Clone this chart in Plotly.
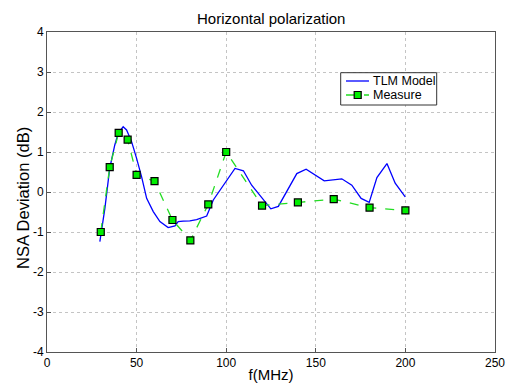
import plotly.graph_objects as go

tlm_f = [29.5, 32.3, 35, 37.8, 39.7, 42.5, 44.4, 47.2, 50, 52.8, 55.6, 59.3, 63, 67.6,
         71.4, 73.2, 76, 79.7, 83.5, 87.2, 89.1, 92.8, 99.3, 104.9, 109.6, 114.2,
         124.9, 129.1, 139.4, 144.6, 154.7, 164.5, 170.1, 175.3, 179.8, 184.1,
         189.7, 194.3, 199.9]
tlm_db = [-1.24, -0.41, 0.59, 1.17, 1.47, 1.63, 1.55, 1.26, 0.84, 0.38, -0.16, -0.49,
          -0.74, -0.89, -0.85, -0.74, -0.73, -0.72, -0.69, -0.62, -0.6, -0.2, 0.22,
          0.59, 0.53, 0.17, -0.42, -0.36, 0.46, 0.57, 0.28, 0.33, 0.17, -0.16, -0.26,
          0.36, 0.71, 0.22, -0.12]

meas_f = [30, 35, 40, 45, 50, 60, 70, 80, 90, 100, 120, 140, 160, 180, 200]
meas_db = [-1.0, 0.62, 1.48, 1.31, 0.43, 0.27, -0.70, -1.21, -0.31, 1.0, -0.34,
           -0.26, -0.18, -0.39, -0.46]

x_ticks = [0, 50, 100, 150, 200, 250]
x_tick_labels = ["0", "50", "100", "150", "200", "250"]
y_ticks = [-4, -3, -2, -1, 0, 1, 2, 3, 4]
y_tick_labels = ["-4", "-3", "-2", "-1", "0", "1", "2", "3", "4"]
series_names = ["TLM Model", "Measure"]

font = "Liberation Sans, Arial, sans-serif"
blue = "#0000ff"
green = "#22dd22"
marker_fill = "#00ee00"

W, H = 507, 385
ML, MR, MT, MB = 47, 12, 32, 33
PW, PH = W - ML - MR, H - MT - MB


def px_x(p):
    return (p - ML) / PW


def px_y(p):
    return (H - MB - p) / PH


fig = go.Figure()
fig.add_trace(go.Scatter(x=tlm_f, y=tlm_db, mode="lines", name=series_names[0],
                         line=dict(color=blue, width=1.3)))
fig.add_trace(go.Scatter(x=meas_f, y=meas_db, mode="lines+markers", name=series_names[1],
                         line=dict(color=green, width=1.3, dash="dash"),
                         marker=dict(symbol="square", size=7, color=marker_fill,
                                     line=dict(color="#000000", width=1.2))))

axis_common = dict(showline=True, linecolor="#555555", linewidth=1, mirror=True,
                   ticks="inside", ticklen=4, tickcolor="#555555",
                   showgrid=True, gridcolor="#c4c4c4", griddash="dot", gridwidth=1,
                   zeroline=False, automargin=False,
                   tickfont=dict(family=font, size=12, color="#000000"))

# custom legend box (pixel-placed, converted to paper fractions)
shapes = [
    dict(type="rect", xref="paper", yref="paper",
         x0=px_x(340.7), x1=px_x(436.7), y0=px_y(105), y1=px_y(72.7),
         line=dict(color="#333333", width=1), fillcolor="white", layer="above"),
    dict(type="line", xref="paper", yref="paper",
         x0=px_x(346), x1=px_x(369), y0=px_y(81), y1=px_y(81),
         line=dict(color=blue, width=1.3), layer="above"),
    dict(type="line", xref="paper", yref="paper",
         x0=px_x(346), x1=px_x(369), y0=px_y(95), y1=px_y(95),
         line=dict(color=green, width=1.3, dash="dash"), layer="above"),
    dict(type="rect", xref="paper", yref="paper",
         x0=px_x(354.2), x1=px_x(361.2), y0=px_y(98.5), y1=px_y(91.5),
         line=dict(color="#000000", width=1.2), fillcolor=marker_fill, layer="above"),
]
annotations = [
    dict(text=series_names[0], xref="paper", yref="paper", x=px_x(370.5), y=px_y(81),
         xanchor="left", yanchor="middle", showarrow=False,
         font=dict(family=font, size=12.5, color="#000000")),
    dict(text=series_names[1], xref="paper", yref="paper", x=px_x(370.5), y=px_y(95),
         xanchor="left", yanchor="middle", showarrow=False,
         font=dict(family=font, size=12.5, color="#000000")),
    dict(text="NSA Deviation (dB)", xref="paper", yref="paper", x=px_x(23), y=px_y(198),
         xanchor="center", yanchor="middle", textangle=-90, showarrow=False,
         font=dict(family=font, size=16.5, color="#000000")),
]

fig.update_layout(
    width=W, height=H,
    margin=dict(l=ML, r=MR, t=MT, b=MB),
    paper_bgcolor="white", plot_bgcolor="white",
    title=dict(text="Horizontal polarization", x=0.535, xanchor="center", y=0.952,
               yanchor="middle", font=dict(family=font, size=15, color="#000000")),
    xaxis=dict(range=[0, 250], tickvals=x_ticks, ticktext=x_tick_labels,
               ticklabelstandoff=0,
               title=dict(text="f(MHz)", font=dict(family=font, size=15, color="#000000"),
                          standoff=0), **axis_common),
    yaxis=dict(range=[-4, 4], tickvals=y_ticks, ticktext=y_tick_labels, **axis_common),
    showlegend=False,
    shapes=shapes,
    annotations=annotations,
)

fig.write_html("out.html")
